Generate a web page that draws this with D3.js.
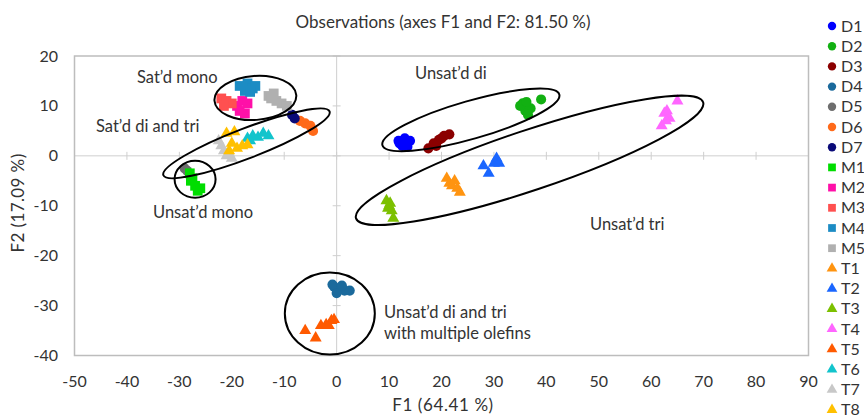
<!DOCTYPE html>
<html>
<head>
<meta charset="utf-8">
<script src="https://d3js.org/d3.v7.min.js"></script>
<style>
  body { margin: 0; background: #fff; }
  svg text { font-family: Lato, "Open Sans", sans-serif; fill: #333; }
</style>
</head>
<body>
<svg id="chart" width="864" height="416"></svg>
<script>
// series names, in legend order
const seriesNames = ['D1','D2','D3','D4','D5','D6','D7','M1','M2','M3','M4','M5','T1','T2','T3','T4','T5','T6','T7','T8'];

// observations (F1, F2) per series
const D1 = [[12, 2.5], [13, 3.5], [12.5, 2], [14, 3], [13.5, 1.8], [11.8, 3]];
const D2 = [[35.5, 10.5], [36, 9], [37, 9.5], [36.5, 8.2], [35, 10], [39, 11.3], [36.2, 10.8]];
const D3 = [[17.5, 1.5], [18.5, 2.5], [19.5, 3.2], [20.5, 4], [21.5, 4.3], [19, 2], [20, 3.5]];
const D4 = [[-0.5, -26.2], [0.5, -26.8], [1.5, -27], [2.5, -27], [0, -27.5], [-0.8, -25.8], [1, -26]];
const D5 = [[-29, -2.5], [-28.5, -3]];
const D6 = [[-7, 7], [-6, 6.5], [-5, 6], [-4.5, 5]];
const D7 = [[-8.5, 8.2], [-8, 7.5]];
const M1 = [[-28, -3.5], [-27.5, -4.5], [-27, -6], [-26.5, -7], [-26, -6.5], [-27.8, -5]];
const M2 = [[-19, 10], [-18, 11], [-17, 10.5], [-18.5, 9], [-17.5, 8.5]];
const M3 = [[-22, 11.5], [-21, 11], [-20, 10.5], [-21.5, 10]];
const M4 = [[-18.5, 14], [-17, 14.5], [-16, 13.5], [-15.5, 14], [-17.5, 13], [-16.5, 12.8]];
const M5 = [[-13, 12], [-12, 12.5], [-11.5, 11], [-10.5, 10.5], [-9.5, 10], [-12.5, 11.5]];
const T1 = [[21, -4.5], [21.5, -5.5], [22, -6], [23, -6.5], [23.5, -7.3], [22.5, -5]];
const T2 = [[28, -2], [29, -3.5], [30, -1.5], [30.5, -0.5], [31, -1.5]];
const T3 = [[9.5, -9], [10, -10], [10.5, -11], [10.8, -12.5], [9.8, -10.5], [10.2, -9.5]];
const T4 = [[62.5, 8.5], [63, 9], [63.5, 7.5], [62, 6], [62.8, 7], [65, 11]];
const T5 = [[-6, -35], [-4, -36.5], [-3, -34], [-2, -33.8], [-1.5, -34], [-1, -33], [-0.5, -32.8]];
const T6 = [[-17, 3.5], [-16, 4], [-15, 3.7], [-14, 4.5], [-13, 4], [-16.5, 3]];
const T7 = [[-22, 2], [-21.5, 1], [-20.5, 0.5], [-20, -0.5], [-21, 0], [-22.5, 3]];
const T8 = [[-21, 4.5], [-19.5, 4.8], [-20, 2.5], [-19, 1.5], [-18, 2], [-17, 2.2], [-20.5, 1]];
const seriesData = [D1, D2, D3, D4, D5, D6, D7, M1, M2, M3, M4, M5, T1, T2, T3, T4, T5, T6, T7, T8];

const xTicks = [-50, -40, -30, -20, -10, 0, 10, 20, 30, 40, 50, 60, 70, 80, 90];
const yTicks = [-40, -30, -20, -10, 0, 10, 20];

// group outlines: centre in data units
const groupNames = ['Sat’d mono', 'Sat’d di and tri', 'Unsat’d mono', 'Unsat’d di', 'Unsat’d tri', 'Unsat’d di and tri|with multiple olefins'];
const groupCentres = [[-15.5, 11.6], [-17.2, 2.5], [-27, -4.7], [25.6, 7.2], [36.8, -0.9], [-1.3, -31.6]];

const colors = {
  D1: '#0000ff', D2: '#12b012', D3: '#8b0000', D4: '#1b6a9c', D5: '#6e6e6e', D6: '#ff6a1a', D7: '#0a0a78',
  M1: '#00dd00', M2: '#ff10a8', M3: '#ff5050', M4: '#1c8cc4', M5: '#b0b0b0',
  T1: '#ff9410', T2: '#1a66ff', T3: '#7cc000', T4: '#ff66ff', T5: '#ff5a00', T6: '#12c4cc', T7: '#c8c8c8', T8: '#ffc000'
};

const svg = d3.select('#chart');
const x = d3.scaleLinear().domain([-50, 90]).range([74.5, 808.5]);
const y = d3.scaleLinear().domain([-40, 20]).range([355.5, 56]);

function shapeOf(name) {
  if (name[0] === 'D') return d3.symbolCircle;
  if (name[0] === 'M') return d3.symbolSquare;
  return d3.symbolTriangle;
}
function sizeOf(name, legend) {
  if (name[0] === 'D') return legend ? 55 : 80;
  if (name[0] === 'M') return legend ? 60 : 95;
  return legend ? 50 : 62;
}

// title
svg.append('text')
  .attr('x', 443).attr('y', 28)
  .attr('text-anchor', 'middle')
  .style('font-size', '17px')
  .text('Observations (axes F1 and F2: 81.50 %)');

// zero lines with small crossing ticks
const grid = svg.append('g').attr('stroke', '#cfcfcf').attr('stroke-width', 1);
grid.append('line').attr('x1', x(-50)).attr('x2', x(90)).attr('y1', y(0)).attr('y2', y(0));
grid.append('line').attr('x1', x(0)).attr('x2', x(0)).attr('y1', y(-40)).attr('y2', y(20));
xTicks.forEach(t => {
  grid.append('line').attr('x1', x(t)).attr('x2', x(t)).attr('y1', y(0) - 4).attr('y2', y(0) + 4);
});
yTicks.forEach(t => {
  grid.append('line').attr('x1', x(0) - 4).attr('x2', x(0) + 4).attr('y1', y(t)).attr('y2', y(t));
});

// frame
svg.append('rect')
  .attr('x', x(-50)).attr('y', y(20))
  .attr('width', x(90) - x(-50)).attr('height', y(-40) - y(20))
  .attr('fill', 'none').attr('stroke', '#bdbdbd').attr('stroke-width', 1.5);

// tick labels
svg.append('g').selectAll('text').data(xTicks).join('text')
  .attr('x', d => x(d)).attr('y', 387)
  .attr('text-anchor', 'middle')
  .style('font-size', '16px')
  .text(d => d);
svg.append('g').selectAll('text').data(yTicks).join('text')
  .attr('x', 58).attr('y', d => y(d) + 5.5)
  .attr('text-anchor', 'end')
  .style('font-size', '16px')
  .text(d => d);

// axis titles
svg.append('text')
  .attr('x', 443).attr('y', 411)
  .attr('text-anchor', 'middle')
  .style('font-size', '17px')
  .style('letter-spacing', '0.6px')
  .text('F1 (64.41 %)');
svg.append('text')
  .attr('transform', 'translate(24,203) rotate(-90)')
  .attr('text-anchor', 'middle')
  .style('font-size', '17px')
  .style('letter-spacing', '0.4px')
  .text('F2 (17.09 %)');

// points
seriesNames.forEach((name, i) => {
  svg.append('g').selectAll('path').data(seriesData[i]).join('path')
    .attr('transform', d => `translate(${x(d[0])},${y(d[1])})`)
    .attr('d', d3.symbol().type(shapeOf(name)).size(sizeOf(name, false)))
    .attr('fill', colors[name]);
});

// group outlines, radii in px
const outlines = [
  { rx: 41, ry: 22, rot: -4 },
  { rx: 89, ry: 15, rot: -21 },
  { rx: 20.5, ry: 18.5, rot: 0 },
  { rx: 92, ry: 19, rot: -16 },
  { rx: 183, ry: 30, rot: -18.5 },
  { rx: 45, ry: 41, rot: 0 }
];
outlines.forEach((o, i) => {
  const c = groupCentres[i];
  svg.append('ellipse')
    .attr('cx', 0).attr('cy', 0)
    .attr('rx', o.rx).attr('ry', o.ry)
    .attr('transform', `translate(${x(c[0])},${y(c[1])}) rotate(${o.rot})`)
    .attr('fill', 'none').attr('stroke', '#000').attr('stroke-width', 2);
});

// group labels (left edge in px, baseline of first line)
const labelPos = [[137, 83], [96, 132], [153, 218], [415, 79], [590, 230], [384, 318]];
groupNames.forEach((g, i) => {
  const t = svg.append('text')
    .attr('text-anchor', 'start')
    .style('font-size', '16.5px');
  g.split('|').forEach((line, j) => {
    t.append('tspan')
      .attr('x', labelPos[i][0])
      .attr('y', labelPos[i][1] + j * 21)
      .text(line);
  });
});

// legend (right edge cuts it, as in the original)
const legend = svg.append('g');
seriesNames.forEach((name, i) => {
  const ly = 26 + i * 20.2;
  legend.append('path')
    .attr('transform', `translate(832,${ly})`)
    .attr('d', d3.symbol().type(shapeOf(name)).size(sizeOf(name, true)))
    .attr('fill', colors[name]);
  legend.append('text')
    .attr('x', 841).attr('y', ly + 5.5)
    .style('font-size', '16px')
    .text(name);
});
</script>
</body>
</html>
